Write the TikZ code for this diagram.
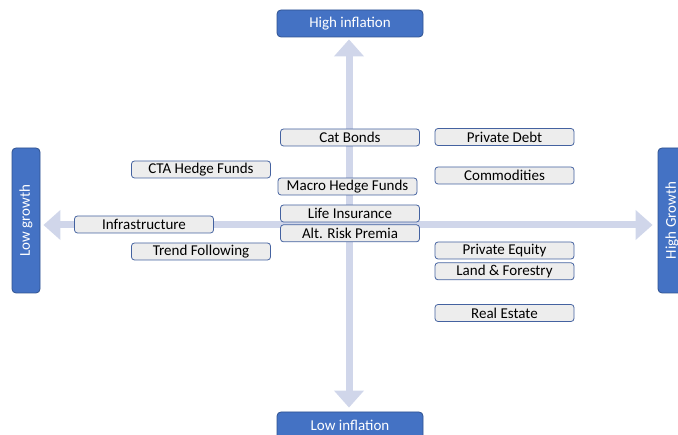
\documentclass[tikz,border=0pt]{standalone}
\usepackage{fontspec}
\setmainfont{Carlito}
\usetikzlibrary{arrows.meta,positioning}

\definecolor{axisblue}{RGB}{68,114,196}
\definecolor{axisedge}{RGB}{47,82,143}
\definecolor{shaft}{RGB}{208,214,234}
\definecolor{assetfill}{RGB}{237,237,237}
\definecolor{assetedge}{RGB}{68,98,160}

\tikzset{
    axisbox/.style={draw=axisedge, fill=axisblue, text=white, rounded corners=4pt, inner sep=0pt, line width=0.8pt},
    asset/.style={draw=assetedge, fill=assetfill, rounded corners=3pt, minimum width=139pt, minimum height=17pt, inner sep=0pt, line width=0.8pt},
    axis/.style={draw=shaft, line width=7pt, {Triangle[width=29pt,length=17pt]}-{Triangle[width=29pt,length=17pt]}}
}

\begin{document}
\begin{tikzpicture}[x=1pt, y=-1pt, font=\fontsize{15}{18}\selectfont]
    \useasboundingbox (0,0) rectangle (678,435);

    % the four ends
    \node[axisbox, minimum width=146pt, minimum height=27pt] (hiinf) at (350,23.5) {High inflation};
    \node[axisbox, minimum width=146pt, minimum height=27pt] (loinf) at (350,425.5) {Low inflation};
    \node[axisbox, minimum width=145pt, minimum height=28pt, rotate=90] (logr) at (26,220.5) {Low growth};
    \node[axisbox, minimum width=145pt, minimum height=28pt, rotate=90] (higr) at (672,220.5) {High Growth};

    % axes
    \coordinate (ctr) at (349,225);
    \draw[axis, shorten <=4pt, shorten >=2pt] (ctr |- loinf.north) -- (ctr |- hiinf.south);
    \draw[axis, shorten <=3pt, shorten >=5pt] (logr.south |- ctr) -- (higr.north |- ctr);

    % middle
    \node[asset] (cat) at (350,137.5) {Cat Bonds};
    \node[asset] (macro) at (347.5,186.5) {Macro Hedge Funds};
    \node[asset] (life) at (350,213.5) {Life Insurance};
    \node[asset] (arp) [below=2pt of life] {Alt. Risk Premia};

    % right
    \node[asset] (pdebt) at (504.5,137) {Private Debt};
    \node[asset] (commod) at (504.5,175.5) {Commodities};
    \node[asset] (pequity) at (504.5,250.5) {Private Equity};
    \node[asset] (land) [below=3pt of pequity] {Land \& Forestry};
    \node[asset] (realest) at (504.5,313) {Real Estate};

    % left
    \node[asset] (cta) at (201,169.5) {CTA Hedge Funds};
    \node[asset] (infra) at (144,224.5) {Infrastructure};
    \node[asset] (trend) at (201,251.5) {Trend Following};
\end{tikzpicture}
\end{document}
